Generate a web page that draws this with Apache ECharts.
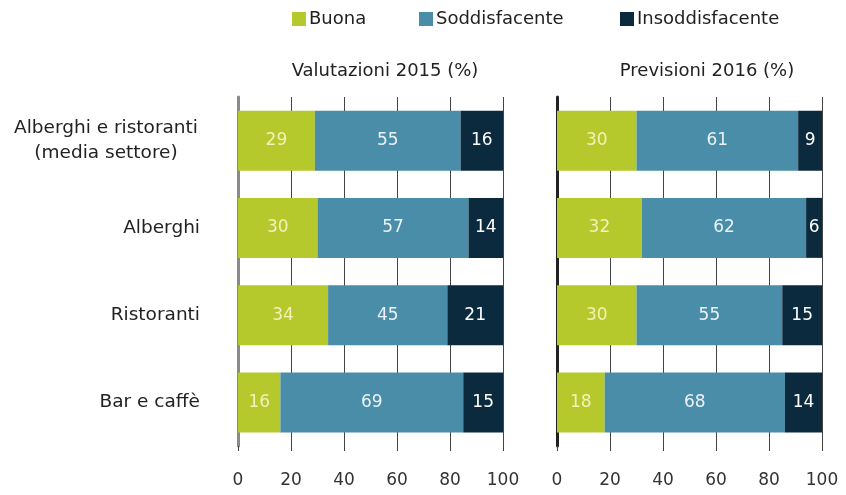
<!DOCTYPE html>
<html>
<head>
<meta charset="utf-8">
<script src="https://cdn.jsdelivr.net/npm/echarts@6/dist/echarts.min.js"></script>
<style>
  html, body { margin: 0; padding: 0; background: #fff; }
  #chart { width: 846px; height: 495px; }
</style>
</head>
<body>
<div id="chart"></div>
<script>
// categorie e valori (%)
const categories = ['Alberghi e ristoranti\n(media settore)', 'Alberghi', 'Ristoranti', 'Bar e caffè'];
const seriesNames = ['Buona', 'Soddisfacente', 'Insoddisfacente'];
const colors = ['#b5c92c', '#4a8da8', '#0b2a3e'];
const labelColors = ['#f3f1b8', '#eaf2f5', '#ffffff'];

const valutazioni2015 = {
  buona: [29, 30, 34, 16],
  soddisfacente: [55, 57, 45, 69],
  insoddisfacente: [16, 14, 21, 15]
};
const previsioni2016 = {
  buona: [30, 32, 30, 18],
  soddisfacente: [61, 62, 55, 68],
  insoddisfacente: [9, 6, 15, 14]
};
const panelTitles = ['Valutazioni 2015 (%)', 'Previsioni 2016 (%)'];
const xTicks = [0, 20, 40, 60, 80, 100];

const font = 'DejaVu Sans';

let chartDom = document.getElementById('chart');
const chart = echarts.init(chartDom);

function xAxisFor(idx) {
  return {
    gridIndex: idx,
    type: 'value',
    min: xTicks[0],
    max: xTicks[xTicks.length - 1],
    interval: 20,
    axisLine: { show: false },
    axisTick: { show: true, length: 5, lineStyle: { color: '#444', width: 1 } },
    splitLine: { show: true, lineStyle: { color: '#444', width: 1 } },
    axisLabel: { margin: 26, fontSize: 17, color: '#333', fontFamily: font }
  };
}

function yAxisFor(idx, showLabels, lineColor) {
  return {
    gridIndex: idx,
    type: 'category',
    inverse: true,
    data: categories,
    axisTick: { show: false },
    axisLine: { show: true, lineStyle: { color: lineColor, width: 3 } },
    axisLabel: {
      show: showLabels,
      margin: 38,
      fontSize: 18.5,
      lineHeight: 25,
      color: '#222',
      fontFamily: font,
      formatter(value) {
        if (value.indexOf('\n') < 0) return value;
        return value.split('\n').map(s => '{m|' + s + '}').join('\n');
      },
      rich: {
        m: { width: 188, align: 'center', fontSize: 18.5, lineHeight: 25, color: '#222', fontFamily: font }
      }
    }
  };
}

function barSeries(name, data, i, idx) {
  return {
    name: name,
    type: 'bar',
    stack: 'panel' + idx,
    xAxisIndex: idx,
    yAxisIndex: idx,
    barWidth: 60,
    data: data,
    itemStyle: { color: colors[i] },
    label: {
      show: true,
      position: 'inside',
      color: labelColors[i],
      fontSize: 17,
      fontFamily: font
    }
  };
}

const panels = [valutazioni2015, previsioni2016];
let series = [];
panels.forEach((p, idx) => {
  series.push(barSeries(seriesNames[0], p.buona, 0, idx));
  series.push(barSeries(seriesNames[1], p.soddisfacente, 1, idx));
  series.push(barSeries(seriesNames[2], p.insoddisfacente, 2, idx));
});

const legendLefts = [292, 419, 620];
const titleCenters = [380, 702];

let option = {
  animation: false,
  backgroundColor: '#fff',
  title: panelTitles.map((t, i) => ({
    text: t,
    left: titleCenters[i],
    textAlign: 'center',
    top: 57,
    textStyle: { fontSize: 18, fontWeight: 'normal', color: '#222', fontFamily: font }
  })),
  legend: seriesNames.map((n, i) => ({
    data: [n],
    left: legendLefts[i],
    top: 10,
    padding: 0,
    itemWidth: 14,
    itemHeight: 14,
    itemGap: 0,
    icon: 'rect',
    textStyle: { fontSize: 18, color: '#222', fontFamily: font, padding: [0, 0, 0, -2] }
  })),
  grid: [
    { left: 238, width: 265, top: 97, height: 349 },
    { left: 557, width: 265, top: 97, height: 349 }
  ],
  xAxis: [xAxisFor(0), xAxisFor(1)],
  yAxis: [yAxisFor(0, true, '#8a8a8a'), yAxisFor(1, false, '#222')],
  series: series
};

chart.setOption(option);
</script>
</body>
</html>
